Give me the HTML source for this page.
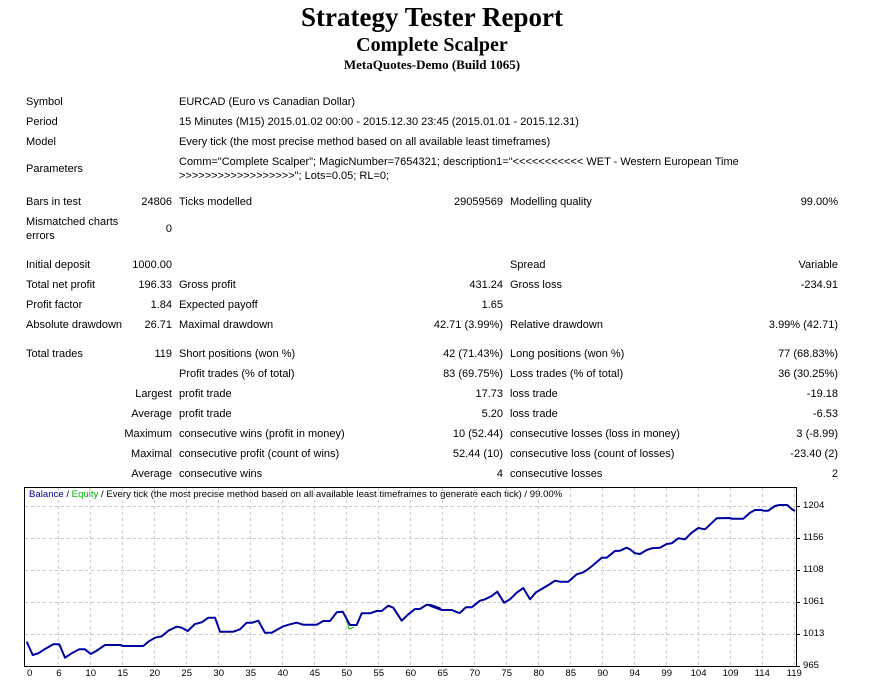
<!DOCTYPE html>
<html><head><meta charset="utf-8"><style>
body{margin:0;width:892px;height:684px;background:#fff;position:relative;overflow:hidden;font-family:"Liberation Sans",sans-serif;font-size:11px;color:#000}
.t{position:absolute;white-space:nowrap;line-height:14px}
.c{font-size:9.6px;line-height:12px}
.r{text-align:right}
.h{position:absolute;left:0;width:864px;text-align:center;font-family:"Liberation Serif",serif;font-weight:bold;white-space:nowrap}
</style></head><body>
<div class="h" style="top:2px;font-size:27px;line-height:30px">Strategy Tester Report</div>
<div class="h" style="top:33px;font-size:20px;line-height:24px">Complete Scalper</div>
<div class="h" style="top:57px;font-size:13px;line-height:16px">MetaQuotes-Demo (Build 1065)</div>
<div id="rows"></div>
<svg style="position:absolute;left:0;top:0" width="892" height="684" id="ch">
</svg>
<script>
var R=document.getElementById('rows'),h='';
function L(x,y,s){y+=1;h+='<div class="t" style="left:'+x+'px;top:'+(y-7)+'px">'+s+'</div>';}
function C(x,y,s){h+='<div class="t c" style="left:'+x+'px;top:'+(y-6)+'px">'+s+'</div>';}
function Rt(x,y,s){y+=1;h+='<div class="t r" style="right:'+(892-x)+'px;top:'+(y-7)+'px">'+s+'</div>';}
L(26,101,'Symbol');L(179,101,'EURCAD (Euro vs Canadian Dollar)');
L(26,121,'Period');L(179,121,'15 Minutes (M15) 2015.01.02 00:00 - 2015.12.30 23:45 (2015.01.01 - 2015.12.31)');
L(26,141,'Model');L(179,141,'Every tick (the most precise method based on all available least timeframes)');
L(26,168,'Parameters');L(179,161,'Comm="Complete Scalper"; MagicNumber=7654321; description1="&lt;&lt;&lt;&lt;&lt;&lt;&lt;&lt;&lt;&lt;&lt; WET - Western European Time');
L(179,175,'&gt;&gt;&gt;&gt;&gt;&gt;&gt;&gt;&gt;&gt;&gt;&gt;&gt;&gt;&gt;&gt;&gt;&gt;"; Lots=0.05; RL=0;');
L(26,201,'Bars in test');Rt(172,201,'24806');L(179,201,'Ticks modelled');Rt(503,201,'29059569');L(510,201,'Modelling quality');Rt(838,201,'99.00%');
L(26,221,'Mismatched charts');L(26,235,'errors');Rt(172,228,'0');
L(26,264,'Initial deposit');Rt(172,264,'1000.00');L(510,264,'Spread');Rt(838,264,'Variable');
L(26,284,'Total net profit');Rt(172,284,'196.33');L(179,284,'Gross profit');Rt(503,284,'431.24');L(510,284,'Gross loss');Rt(838,284,'-234.91');
L(26,304,'Profit factor');Rt(172,304,'1.84');L(179,304,'Expected payoff');Rt(503,304,'1.65');
L(26,324,'Absolute drawdown');Rt(172,324,'26.71');L(179,324,'Maximal drawdown');Rt(503,324,'42.71 (3.99%)');L(510,324,'Relative drawdown');Rt(838,324,'3.99% (42.71)');
L(26,353,'Total trades');Rt(172,353,'119');L(179,353,'Short positions (won %)');Rt(503,353,'42 (71.43%)');L(510,353,'Long positions (won %)');Rt(838,353,'77 (68.83%)');
var rs=[[373,'','Profit trades (% of total)','83 (69.75%)','Loss trades (% of total)','36 (30.25%)'],
[393,'Largest','profit trade','17.73','loss trade','-19.18'],
[413,'Average','profit trade','5.20','loss trade','-6.53'],
[433,'Maximum','consecutive wins (profit in money)','10 (52.44)','consecutive losses (loss in money)','3 (-8.99)'],
[453,'Maximal','consecutive profit (count of wins)','52.44 (10)','consecutive loss (count of losses)','-23.40 (2)'],
[473,'Average','consecutive wins','4','consecutive losses','2']];
rs.forEach(function(a){Rt(172,a[0],a[1]);L(179,a[0],a[2]);Rt(503,a[0],a[3]);L(510,a[0],a[4]);Rt(838,a[0],a[5]);});
C(29,495,'<span style="color:#00008b">Balance</span> / <span style="color:#00b000">Equity</span> / Every tick (the most precise method based on all available least timeframes to generate each tick) / 99.00%');
var yl=[[506,'1204'],[538,'1156'],[570,'1108'],[602,'1061'],[634,'1013'],[666,'965']];
yl.forEach(function(a){C(803,a[0],a[1]);});
var xl=['0','6','10','15','20','25','30','35','40','45','50','55','60','65','70','75','80','85','90','94','99','104','109','114','119'];
xl.forEach(function(s,i){var x=27+i*32;C(x-(i==0?0:s.length*2.8),674,s);});
R.innerHTML=h;
var s='';
for(var i=1;i<25;i++){s+='<line x1="'+(26.3+i*32)+'" y1="488" x2="'+(26.3+i*32)+'" y2="666" stroke="#c8c8c8" stroke-dasharray="3,3"/>';}
[506,538,570,602,634].forEach(function(y){s+='<line x1="25" y1="'+(y+0.5)+'" x2="796" y2="'+(y+0.5)+'" stroke="#c8c8c8" stroke-dasharray="3,3"/>';});
s+='<rect x="24.5" y="487.5" width="772" height="179" fill="none" stroke="#000"/>';
for(var i=0;i<6;i++){s+='<line x1="797" y1="'+(506.5+i*32)+'" x2="800" y2="'+(506.5+i*32)+'" stroke="#000"/>';}
var z1=[[20,470],[38,510],[55,505],[75,492],[100,478],[118,478],[135,518],[155,505],[178,493],[195,493],[212,507],[230,497],[255,480],[300,480],[310,483],[370,483],[385,470],[405,458],[425,454],[445,437],[470,425],[485,428],[503,438],[525,417],[545,412],[565,398],[585,398],[600,440],[640,440],[660,433],[680,413],[697,413],[715,407],[735,443],[755,443],[790,424],[810,418],[830,413],[850,419],[890,419],[910,408],[930,408],[950,382],[968,380],[978,398],[990,420],[1010,420],[1025,385],[1050,385],[1070,378],[1085,378],[1105,362],[1120,368],[1145,407],[1165,388],[1185,372],[1200,372],[1220,359],[1235,361],[1260,370]];
var z2=[[0,362],[35,375],[65,375],[85,383],[90,383],[108,367],[125,367],[150,347],[165,343],[185,333],[202,320],[222,353],[240,343],[260,323],[280,309],[300,343],[318,322],[335,312],[360,297],[375,287],[390,290],[415,290],[440,268],[460,262],[475,252],[490,240],[515,218],[530,218],[555,198],[570,197],[590,188],[600,193],[615,205],[630,207],[650,195],[665,190],[690,188],[710,177],[725,175],[745,160],[765,163],[785,143],[805,129],[825,133],[860,100],[900,99],[905,101],[940,101],[960,83],[975,75],[995,75],[1000,77],[1015,77],[1035,63],[1048,60],[1072,60],[1085,72],[1095,78]];
var p=[];z1.forEach(function(a){p.push((20+a[0]/3).toFixed(1)+','+(485+a[1]/3).toFixed(1));});
z2.forEach(function(a){p.push((430+a[0]/3).toFixed(1)+','+(485+a[1]/3).toFixed(1));});
s+='<polyline points="346,618 349,629 354,627" fill="none" stroke="#00c000" stroke-width="1"/>';
s+='<polyline points="'+p.join(' ')+'" fill="none" stroke="#0000a0" stroke-width="2" stroke-linejoin="round"/>';
document.getElementById('ch').innerHTML=s;
</script>
</body></html>
